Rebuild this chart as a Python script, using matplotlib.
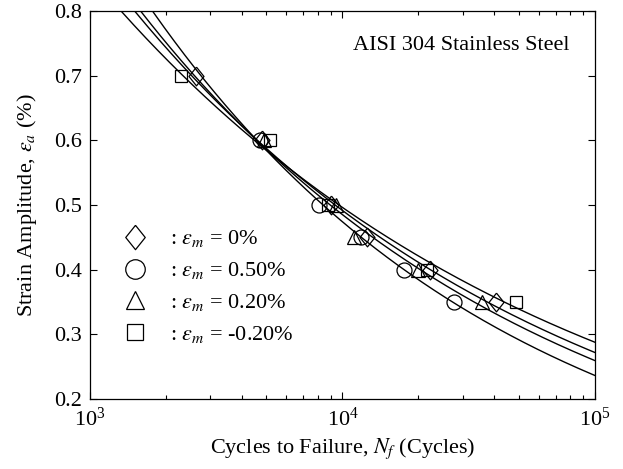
import numpy as np
import matplotlib
matplotlib.use("Agg")
import matplotlib.pyplot as plt
from matplotlib.ticker import LogLocator, NullFormatter

plt.rcParams['font.family'] = 'serif'
plt.rcParams['font.serif'] = ['Liberation Serif', 'DejaVu Serif']
plt.rcParams['mathtext.fontset'] = 'stix'
plt.rcParams['font.size'] = 16

# cycles to failure and strain amplitude (%) for each mean strain
N_0 = [2620, 4800, 9000, 12500, 22300, 40400]
e_0 = [0.70, 0.60, 0.50, 0.45, 0.40, 0.35]
N_050 = [4700, 8100, 11800, 17500, 27700]
e_050 = [0.60, 0.50, 0.45, 0.40, 0.35]
N_020 = [4900, 9400, 11150, 19860, 35600]
e_020 = [0.60, 0.50, 0.45, 0.40, 0.35]
N_m020 = [2300, 5150, 8800, 21600, 48700]
e_m020 = [0.70, 0.60, 0.50, 0.40, 0.35]

labels = [r': $\varepsilon_m$ = 0%', r': $\varepsilon_m$ = 0.50%',
          r': $\varepsilon_m$ = 0.20%', r': $\varepsilon_m$ = -0.20%']
yticks = [0.2, 0.3, 0.4, 0.5, 0.6, 0.7, 0.8]

diamond = [(0, 1), (0.8, 0), (0, -1), (-0.8, 0), (0, 1)]
series = [(N_0, e_0, diamond, 13.5),
          (N_050, e_050, 'o', 10.8),
          (N_020, e_020, '^', 10.5),
          (N_m020, e_m020, 's', 9.0)]

fig = plt.figure(figsize=(6.23, 4.69), dpi=100)
ax = fig.add_axes([0.1445, 0.149, 0.8105, 0.828])

Nfit = np.logspace(3, 5, 300)
handles = []
for (N, e, mk, ms), lab in zip(series, labels):
    # power law fit in log-log space
    b, a = np.polyfit(np.log10(N), np.log10(e), 1)
    ax.plot(Nfit, 10 ** (a + b * np.log10(Nfit)), color='black', lw=1.0)
    h, = ax.plot(N, e, linestyle='none', marker=mk, ms=ms, mfc='none',
                 mec='black', mew=0.9, label=lab)
    handles.append(h)

ax.set_xscale('log')
ax.set_xlim(1e3, 1e5)
ax.set_ylim(0.2, 0.8)
ax.set_yticks(yticks)
ax.set_yticklabels(['%.1f' % v for v in yticks])
ax.xaxis.set_major_locator(LogLocator(base=10, numticks=5))
ax.xaxis.set_minor_locator(LogLocator(base=10, subs=np.arange(2, 10), numticks=20))
ax.xaxis.set_minor_formatter(NullFormatter())
ax.tick_params(which='both', direction='in', top=True, right=True)
ax.tick_params(which='major', length=5, width=0.8, pad=6)
ax.tick_params(which='minor', length=3, width=0.8)
for s in ax.spines.values():
    s.set_linewidth(0.9)

ax.set_xlabel(r'Cycles to Failure, $N_f$ (Cycles)', labelpad=4)
ax.set_ylabel(r'Strain Amplitude, $\varepsilon_a$ (%)', labelpad=11)

ax.text(0.95, 0.91, 'AISI 304 Stainless Steel', transform=ax.transAxes,
        ha='right', va='center')

ax.legend(handles=handles, loc='upper left', bbox_to_anchor=(0.04, 0.468),
          frameon=False, markerscale=1.3, handlelength=1.2,
          handletextpad=1.0, labelspacing=0.49, borderpad=0)

fig.savefig('out.png', dpi=100)
